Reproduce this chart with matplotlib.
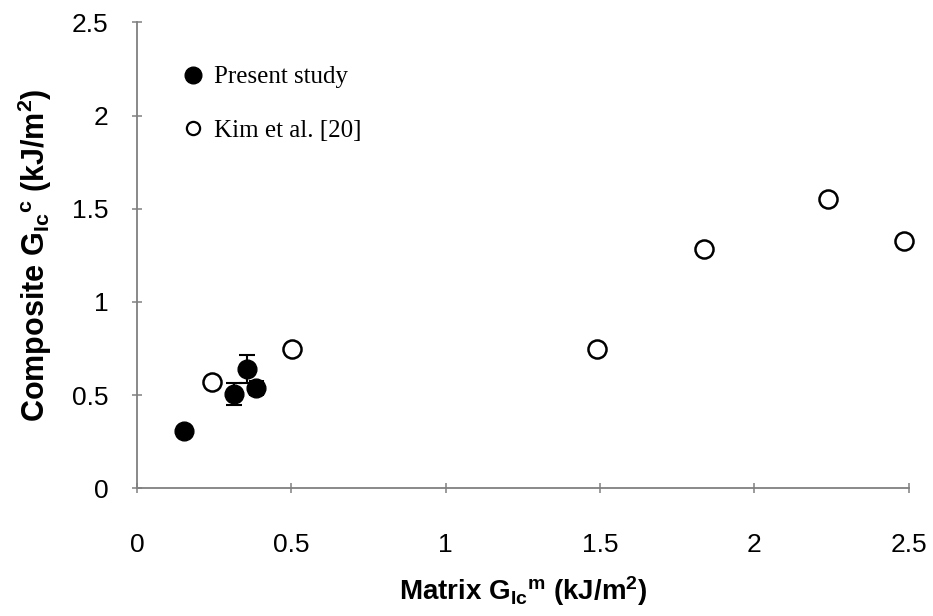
import matplotlib
matplotlib.use("Agg")
import matplotlib.pyplot as plt
from matplotlib.lines import Line2D

plt.rcParams['font.family'] = 'Liberation Sans'
plt.rcParams['mathtext.fontset'] = 'custom'
plt.rcParams['mathtext.rm'] = 'Liberation Sans:bold'
plt.rcParams['mathtext.bf'] = 'Liberation Sans:bold'
plt.rcParams['mathtext.it'] = 'Liberation Sans:bold'

# present study (filled, with error bars)
present_x = [0.153, 0.315, 0.355, 0.387]
present_y = [0.31, 0.505, 0.64, 0.536]
present_yerr = [0.01, 0.06, 0.075, 0.02]
present_xerr = [0.0, 0.0, 0.0, 0.02]

# Kim et al. [20] (open)
kim_x = [0.244, 0.502, 1.49, 1.838, 2.24, 2.485]
kim_y = [0.57, 0.75, 0.75, 1.285, 1.554, 1.328]

ticks = [0, 0.5, 1, 1.5, 2, 2.5]
tick_labels = ['0', '0.5', '1', '1.5', '2', '2.5']

fig = plt.figure(figsize=(9.33, 6.16), dpi=100)
ax = fig.add_axes([0.1468, 0.2073, 0.827, 0.7565])

ax.errorbar(present_x, present_y, yerr=present_yerr, xerr=present_xerr,
            fmt='o', color='black', ms=13.5, mec='black', mfc='black',
            ecolor='black', elinewidth=1.5, capsize=5.5, capthick=1.5,
            clip_on=False, zorder=3)
ax.plot(kim_x, kim_y, 'o', ms=13, mfc='white', mec='black', mew=1.8,
        clip_on=False, zorder=3)

ax.set_xlim(0, 2.5)
ax.set_ylim(0, 2.5)
ax.set_xticks(ticks)
ax.set_xticklabels(tick_labels)
ax.set_yticks(ticks)
ax.set_yticklabels(tick_labels)

for s in ['top', 'right']:
    ax.spines[s].set_visible(False)
for s in ['left', 'bottom']:
    ax.spines[s].set_color('#808080')
    ax.spines[s].set_linewidth(1.3)

ax.tick_params(axis='both', direction='inout', length=7, width=1.1,
               color='#808080', labelsize=19)
ax.tick_params(axis='x', pad=29)
ax.tick_params(axis='y', pad=17)

ax.set_xlabel(r'Matrix G$_{\rm Ic}$$^{\rm m}$ (kJ/m$^{\rm 2}$)',
              fontsize=20, fontweight='bold', labelpad=12)
ax.set_ylabel(r'Composite G$_{\rm Ic}$$^{\rm c}$ (kJ/m$^{\rm 2}$)',
              fontsize=22, fontweight='bold', labelpad=13)

handles = [
    Line2D([], [], ls='none', marker='o', ms=12, mfc='black', mec='black'),
    Line2D([], [], ls='none', marker='o', ms=9.5, mfc='white', mec='black', mew=1.6),
]
ax.legend(handles, ['Present study', 'Kim et al. [20]'], loc='upper left',
          bbox_to_anchor=(0.03, 0.955), frameon=False,
          prop={'family': 'Liberation Serif', 'size': 18},
          handlelength=0.8, handletextpad=0.45, labelspacing=1.25)

fig.savefig('out.png', dpi=100)
